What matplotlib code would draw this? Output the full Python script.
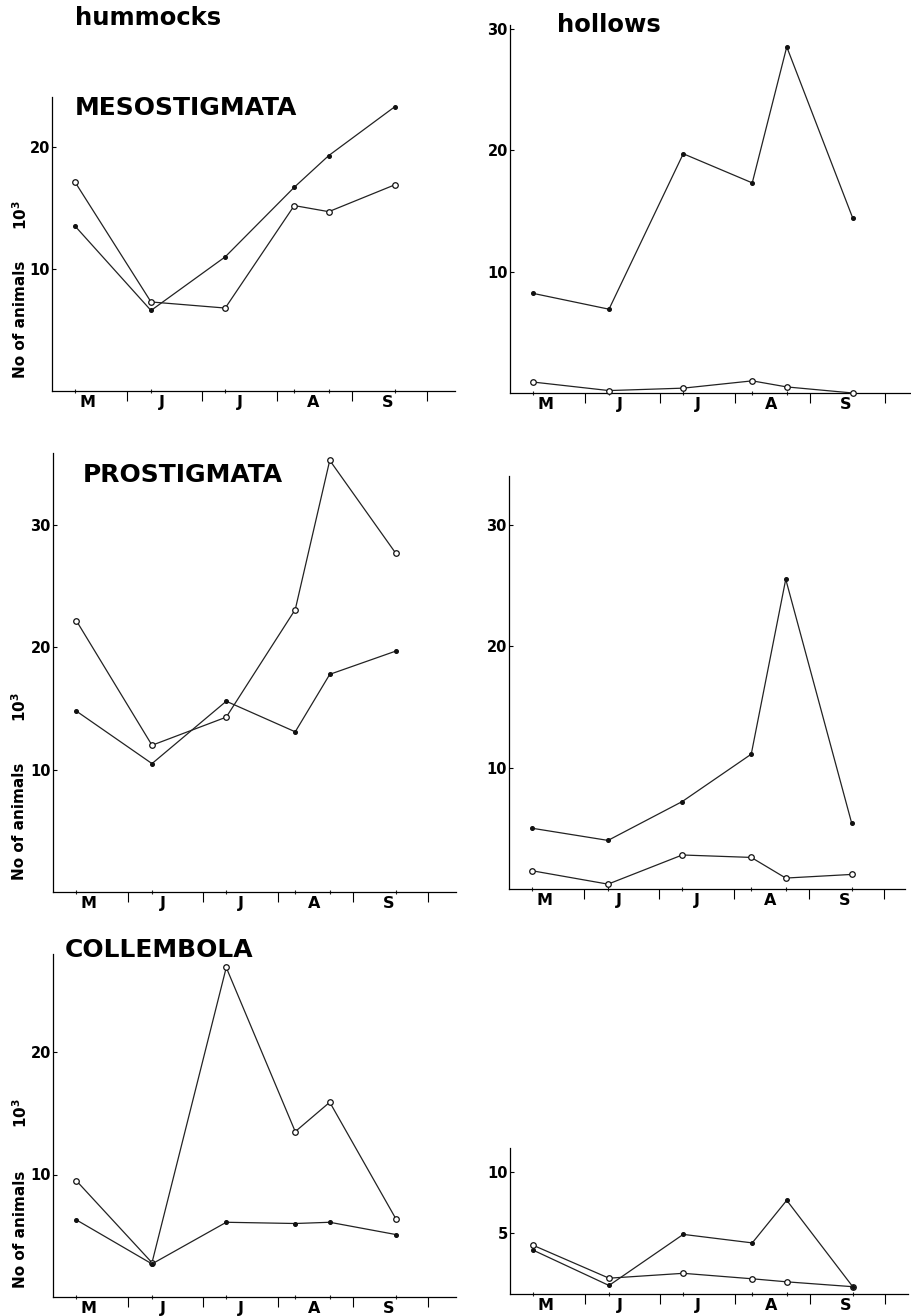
import numpy as np
import matplotlib
matplotlib.use("Agg")
import matplotlib.pyplot as plt

plt.rcParams['font.family'] = ['DejaVu Sans']
plt.rcParams['font.weight'] = 'bold'

W, H = 912, 1316

# sampling dates, in months after 1 May
sample_months = [0.31, 1.32, 2.31, 3.23, 3.69, 4.57]
month_labels = ['M', 'J', 'J', 'A', 'S']
month_label_pos = [0.47, 1.47, 2.5, 3.48, 4.47]
month_bounds = [1, 2, 3, 4, 5]

# numbers of animals, 10^3
hum_meso_open = [17.1, 7.3, 6.8, 15.2, 14.7, 16.9]
hum_meso_dot = [13.5, 6.6, 11.0, 16.7, 19.3, 23.3]
hol_meso_dot = [8.2, 6.9, 19.7, 17.3, 28.5, 14.4]
hol_meso_open = [0.9, 0.2, 0.4, 1.0, 0.5, 0.0]

hum_pro_open = [22.2, 12.0, 14.3, 23.1, 35.3, 27.7]
hum_pro_dot = [14.8, 10.5, 15.6, 13.1, 17.8, 19.7]
hol_pro_dot = [5.0, 4.0, 7.2, 11.1, 25.5, 5.4]
hol_pro_open = [1.5, 0.4, 2.8, 2.6, 0.9, 1.2]

hum_col_open = [9.5, 2.8, 26.9, 13.5, 15.9, 6.4]
hum_col_dot = [6.3, 2.7, 6.1, 6.0, 6.1, 5.1]
hol_col_open = [4.0, 1.3, 1.7, 1.25, 1.0, 0.6]
hol_col_dot = [3.6, 0.7, 4.9, 4.2, 7.7, 0.6]


def px_axes(fig, l, r, b, t):
    return fig.add_axes([l / W, 1 - b / H, (r - l) / W, (b - t) / H])


def panel(fig, box, ytop, yticks, open_vals, dot_vals):
    l, r, b, t = box
    ax = px_axes(fig, l, r, b, t)
    ax.set_xlim(0, (r - l) / 75.0)
    ax.set_ylim(0, ytop)
    for s in ['top', 'right']:
        ax.spines[s].set_visible(False)
    for s in ['left', 'bottom']:
        ax.spines[s].set_linewidth(0.9)
    ax.plot(sample_months, open_vals, '-', color='#222', lw=0.9,
            marker='o', ms=4, mfc='white', mec='#111', mew=0.9, clip_on=False, zorder=3)
    ax.plot(sample_months, dot_vals, '-', color='#222', lw=0.9,
            marker='o', ms=2.6, mfc='#111', mec='#111', clip_on=False, zorder=3)
    # small marks of sampling dates on the time axis
    ax.plot(sample_months, [0] * len(sample_months), '|', color='#222', ms=3,
            mew=0.8, clip_on=False)
    ax.set_xticks(month_bounds)
    ax.set_xticklabels([])
    ax.tick_params(axis='x', which='major', direction='out', length=7, width=0.8)
    ax.set_xticks(month_label_pos, minor=True)
    ax.set_xticklabels(month_labels, minor=True, fontsize=11.5, fontweight='bold')
    ax.tick_params(axis='x', which='minor', length=0, pad=3)
    ax.set_yticks(yticks)
    ax.set_yticklabels([str(v) for v in yticks], fontsize=10.5, fontweight='bold')
    ax.tick_params(axis='y', direction='in', length=3, width=0.8, pad=1.5)
    return ax


fig = plt.figure(figsize=(W / 100, H / 100), dpi=100)

panel(fig, (52, 455, 391, 97), 24.1, [10, 20], hum_meso_open, hum_meso_dot)
panel(fig, (510, 912, 393, 25), 30.3, [10, 20, 30], hol_meso_open, hol_meso_dot)
panel(fig, (53, 456, 892, 453), 35.9, [10, 20, 30], hum_pro_open, hum_pro_dot)
panel(fig, (509, 905, 889, 476), 34.0, [10, 20, 30], hol_pro_open, hol_pro_dot)
panel(fig, (53, 456, 1297, 954), 28.0, [10, 20], hum_col_open, hum_col_dot)
panel(fig, (510, 908, 1294, 1148), 12.0, [5, 10], hol_col_open, hol_col_dot)


def ftext(x, y, s, **kw):
    fig.text(x / W, 1 - y / H, s, **kw)


ftext(75, 18, 'hummocks', fontsize=17.5, fontweight='heavy', va='center', ha='left')
ftext(557, 25, 'hollows', fontsize=17.5, fontweight='heavy', va='center', ha='left')
ftext(75, 108, 'MESOSTIGMATA', fontsize=18, fontweight='heavy', va='center', ha='left')
ftext(83, 475, 'PROSTIGMATA', fontsize=18, fontweight='heavy', va='center', ha='left')
ftext(65, 950, 'COLLEMBOLA', fontsize=18, fontweight='heavy', va='center', ha='left')

# y axis labels of the left column
for x, y_no, y_ten in [(21, 378, 230), (20, 880, 722), (21, 1288, 1128)]:
    ftext(x, y_no, 'No of animals', rotation=90, fontsize=11, fontweight='bold',
          ha='center', va='bottom')
    ftext(x, y_ten, '10$^3$', rotation=90, fontsize=11, fontweight='bold',
          ha='center', va='bottom')

fig.savefig('out.png', dpi=100, facecolor='white')
